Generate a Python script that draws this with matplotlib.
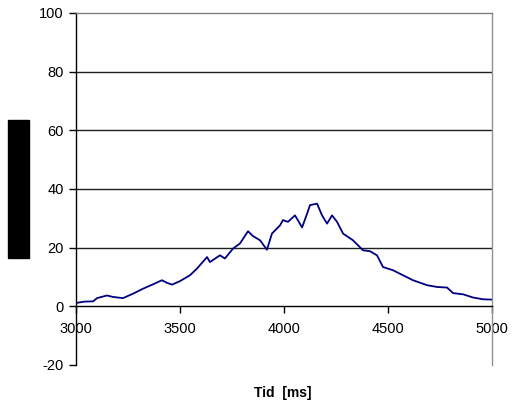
import matplotlib
matplotlib.use("Agg")
import matplotlib.pyplot as plt
from matplotlib.patches import Rectangle

# tid [ms] og verdi, lest av fra figuren
tid = [3005, 3040, 3082, 3101, 3149, 3178, 3226, 3274, 3322, 3370, 3413, 3438,
       3462, 3500, 3548, 3582, 3630, 3644, 3692, 3716, 3755, 3788, 3827, 3850,
       3885, 3918, 3942, 3981, 3995, 4019, 4053, 4087, 4111, 4125, 4159, 4183,
       4207, 4231, 4255, 4284, 4332, 4380, 4413, 4447, 4476, 4524, 4572, 4620,
       4688, 4736, 4784, 4813, 4861, 4909, 4957, 5000]
verdi = [1.2, 1.6, 1.7, 2.8, 3.7, 3.2, 2.8, 4.3, 6.0, 7.5, 8.9, 8.0,
         7.4, 8.6, 10.6, 12.9, 16.8, 15.1, 17.4, 16.3, 19.7, 21.4, 25.6, 24.0,
         22.5, 19.3, 24.8, 27.6, 29.4, 28.8, 31.0, 26.9, 31.6, 34.5, 35.0, 31.0,
         28.2, 31.0, 28.8, 24.8, 22.5, 19.1, 18.8, 17.4, 13.4, 12.3, 10.6, 8.9,
         7.2, 6.6, 6.4, 4.5, 4.1, 3.0, 2.4, 2.3]

xticks = [3000, 3500, 4000, 4500, 5000]
yticks = [-20, 0, 20, 40, 60, 80, 100]

plt.rcParams['font.family'] = ['Liberation Sans', 'DejaVu Sans']
plt.rcParams['axes.unicode_minus'] = False

fig = plt.figure(figsize=(5.13, 4.08), dpi=100)
ax = fig.add_axes([76/513, 43/408, 416/513, 352/408])

ax.plot(tid, verdi, color='#000080', linewidth=1.3)

ax.set_xlim(3000, 5000)
ax.set_ylim(-20, 100)
ax.set_xticks(xticks)
ax.set_yticks(yticks)

for y in [20, 40, 60, 80]:
    ax.axhline(y, color='#202020', linewidth=1, zorder=0)

ax.spines['bottom'].set_position(('data', 0))
ax.spines['bottom'].set_color('black')
ax.spines['left'].set_color('black')
ax.spines['top'].set_color('#808080')
ax.spines['right'].set_color('#9090a0')
for s in ax.spines.values():
    s.set_linewidth(1)

ax.tick_params(axis='both', direction='out', length=5, width=1,
               labelsize=10.5, pad=4)
ax.tick_params(axis='x', pad=6)

fig.text(283/513, 1 - 393/408, 'Tid  [ms]', ha='center', va='center',
         fontsize=10, fontweight='bold')

# sladdet y-akse-tittel
fig.patches.append(Rectangle((8/513, 150/408), 21/513, 138/408,
                             transform=fig.transFigure, color='black'))

fig.savefig('out.png', dpi=100)
